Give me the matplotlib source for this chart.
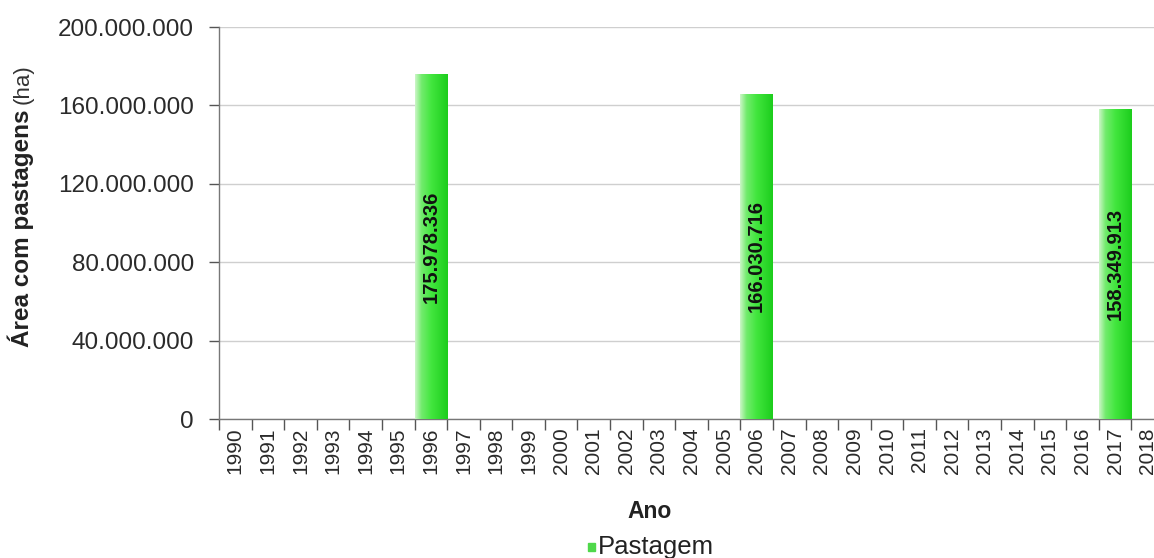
import numpy as np
import matplotlib
matplotlib.use("Agg")
import matplotlib.pyplot as plt
from matplotlib.colors import LinearSegmentedColormap
from matplotlib.ticker import FuncFormatter

plt.rcParams['font.family'] = ['Liberation Sans', 'DejaVu Sans']

anos = list(range(1990, 2019))
anos_censo = [1996, 2006, 2017]
area_pastagem = [175978336, 166030716, 158349913]

W, H = 1154, 558
fig = plt.figure(figsize=(W / 100, H / 100), dpi=100)
fig.patch.set_facecolor('white')

# plot area runs a bit past the right edge, like the exported chart
left, right, bottom, top = 219, 1164, 419, 27
ax = fig.add_axes([left / W, 1 - bottom / H, (right - left) / W, (bottom - top) / H])

def fmt_br(v, pos=None):
    return f"{int(round(v)):,}".replace(",", ".")

x_idx = [anos.index(a) for a in anos_censo]
bars = ax.bar(x_idx, area_pastagem, width=1.0, color='none', edgecolor='none', zorder=3)

verde = LinearSegmentedColormap.from_list(
    "verde", [(0, "#cdf6c9"), (0.2, "#72eb6d"), (0.5, "#42e63e"), (1.0, "#1ccd1c")])
grad = np.linspace(0, 1, 256).reshape(1, -1)
for b, v in zip(bars, area_pastagem):
    x0 = b.get_x()
    im = ax.imshow(grad, cmap=verde, aspect='auto', zorder=3,
                   extent=[x0, x0 + b.get_width(), 0, v])
    im.set_clip_path(b)
    ax.text(x0 + b.get_width() / 2, v / 2, fmt_br(v), rotation=90,
            ha='center', va='center', fontsize=14.5, fontweight='bold',
            color='#111111', zorder=4)

ax.set_xlim(-0.5, len(anos) - 0.5)
ax.set_ylim(0, 200000000)
ax.set_yticks(np.arange(0, 200000001, 40000000))
ax.yaxis.set_major_formatter(FuncFormatter(fmt_br))
ax.tick_params(axis='y', labelsize=17.5, colors='#555555', labelcolor='#2a2a2a',
               length=7, width=1, pad=11)

# tick marks on category boundaries, labels centred in each category
ax.set_xticks(np.arange(-0.5, len(anos), 1.0))
ax.set_xticklabels([])
ax.set_xticks(range(len(anos)), minor=True)
ax.set_xticklabels([str(a) for a in anos], minor=True, rotation=90)
ax.tick_params(axis='x', which='major', length=8, width=1, colors='#555555')
ax.tick_params(axis='x', which='minor', length=0, labelsize=15, labelcolor='#2a2a2a', pad=6)

ax.grid(axis='y', color='#cfcfcf', linewidth=1, zorder=0)
ax.set_axisbelow(True)
for s in ['top', 'right']:
    ax.spines[s].set_visible(False)
for s in ['left', 'bottom']:
    ax.spines[s].set_color('#777777')
    ax.spines[s].set_linewidth(1)

# axis titles
fig.text(650 / W, 1 - 512 / H, "Ano", ha='center', va='center',
         fontsize=16.5, fontweight='bold', color='#222222')

t1 = fig.text(29 / W, 1 - 347 / H, "Área com pastagens", rotation=90,
              rotation_mode='anchor', ha='left', va='baseline',
              fontsize=17.5, fontweight='bold', color='#222222')
fig.canvas.draw()
ext = t1.get_window_extent()
fig.text(29 / W, (ext.y1 + 5) / H, "(ha)", rotation=90,
         rotation_mode='anchor', ha='left', va='baseline',
         fontsize=16, color='#333333')

# legend
fig.patches.append(plt.Rectangle((588 / W, 1 - 551 / H), 7 / W, 8 / H,
                                 transform=fig.transFigure, color='#4fd84a'))
fig.text(598 / W, 1 - 547 / H, "Pastagem", ha='left', va='center',
         fontsize=18.5, color='#222222')

fig.savefig("out.png", dpi=100)
